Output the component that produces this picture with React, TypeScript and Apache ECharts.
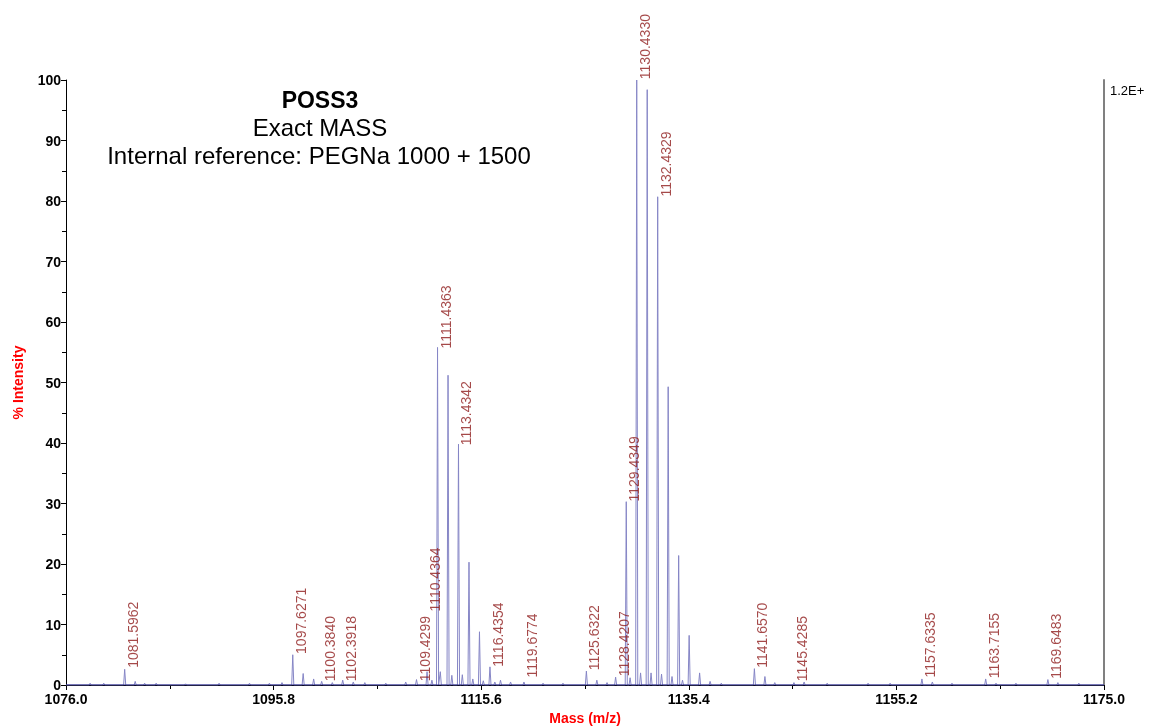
import React, { useEffect, useRef } from "react";
import * as echarts from "echarts";

// ---- data ----
const massMin = 1076.0;
const massMax = 1175.0;
const massTickStep = 19.8;
const intensityTicks = [0, 10, 20, 30, 40, 50, 60, 70, 80, 90, 100];

// profile peaks: [m/z, % intensity]
const peaks: [number, number][] = [
  [1078.3, 0.3], [1079.6, 0.3], [1081.5962, 2.6], [1082.6, 0.6], [1083.5, 0.3], [1084.6, 0.3],
  [1087.4, 0.2], [1090.6, 0.3], [1093.5, 0.3], [1095.4, 0.3], [1096.6, 0.4],
  [1097.6271, 5.0], [1098.62, 1.9], [1099.62, 1.0], [1100.384, 0.6], [1101.4, 0.4],
  [1102.3918, 0.8], [1103.4, 0.5], [1104.5, 0.4], [1106.5, 0.3], [1108.4, 0.5],
  [1109.4299, 0.9], [1110.4364, 2.2], [1110.9, 0.8], [1111.4363, 55.8], [1111.7, 2.2],
  [1112.437, 51.2], [1112.8, 1.6], [1113.4342, 39.8], [1113.8, 1.7], [1114.435, 20.3],
  [1114.8, 1.0], [1115.435, 8.8], [1115.8, 0.7], [1116.4354, 3.0], [1116.9, 0.5],
  [1117.44, 0.8], [1118.4, 0.5], [1119.6774, 0.5], [1121.5, 0.3], [1123.4, 0.3],
  [1125.6322, 2.3], [1126.63, 0.8], [1127.6, 0.4], [1128.4207, 1.3], [1129.4349, 30.3],
  [1129.8, 1.2], [1130.433, 100], [1130.8, 2.0], [1131.433, 98.4], [1131.8, 2.0],
  [1132.4329, 80.7], [1132.8, 1.8], [1133.433, 49.3], [1133.8, 1.4], [1134.433, 21.4],
  [1134.8, 0.8], [1135.433, 8.2], [1136.43, 2.0], [1137.43, 0.6], [1138.5, 0.3],
  [1141.657, 2.7], [1142.66, 1.4], [1143.6, 0.4], [1145.4285, 0.4], [1146.4, 0.5],
  [1148.6, 0.3], [1152.5, 0.3], [1154.6, 0.3], [1157.6335, 1.0], [1158.63, 0.5],
  [1160.5, 0.3], [1163.7155, 1.0], [1164.7, 0.3], [1166.6, 0.3], [1169.6483, 0.9],
  [1170.6, 0.4], [1172.6, 0.3],
];

// labelled peaks: [m/z, label height in %]
const labelledPeaks: [number, number][] = [
  [1081.5962, 3.0], [1097.6271, 5.3], [1100.384, 0.8], [1102.3918, 0.8],
  [1109.4299, 0.8], [1110.4364, 12.3], [1111.4363, 55.8], [1113.4342, 39.8],
  [1116.4354, 3.2], [1119.6774, 1.4], [1125.6322, 2.6], [1128.4207, 1.6],
  [1129.4349, 30.5], [1130.433, 100.3], [1132.4329, 80.9], [1141.657, 3.0],
  [1145.4285, 0.8], [1157.6335, 1.4], [1163.7155, 1.3], [1169.6483, 1.2],
];

const titleLines = ["POSS3", "Exact MASS", "Internal reference: PEGNa 1000 + 1500"];
const scaleNote = "1.2E+";

const FONT = "'Liberation Sans', Arial, Helvetica, sans-serif";

export default function App() {
  const ref = useRef<HTMLDivElement>(null);
  useEffect(() => {
    document.body.style.margin = "0";
    if (!ref.current) return;
    const chart = echarts.init(ref.current, null, { renderer: "svg" });

    const halfWidth = 0.1;
    const profile: number[][] = [[0, 0]];
    [...peaks].sort((a, b) => a[0] - b[0]).forEach(([m, h]) => {
      const x = m - massMin;
      profile.push([x - halfWidth, 0], [x, h], [x + halfWidth, 0]);
    });
    profile.push([massMax - massMin, 0]);

    const labelData = labelledPeaks.map(([m, h]) => [m - massMin, h, m.toFixed(4)]);

    chart.setOption({
      animation: false,
      textStyle: { fontFamily: FONT },
      grid: { left: 66, right: 47, top: 80, bottom: 41, containLabel: false, outerBoundsMode: "none" },
      xAxis: {
        type: "value",
        min: 0,
        max: massMax - massMin,
        interval: massTickStep,
        name: "Mass (m/z)",
        nameLocation: "middle",
        nameGap: 24,
        nameTextStyle: { color: "#ff0000", fontWeight: "bold", fontSize: 14, fontFamily: FONT },
        axisLine: { show: true, lineStyle: { color: "#000", width: 1 } },
        axisTick: { show: true, length: 5, lineStyle: { color: "#000" } },
        minorTick: { show: true, splitNumber: 2, length: 4, lineStyle: { color: "#000" } },
        splitLine: { show: false },
        axisLabel: {
          formatter: (v: number) => (v + massMin).toFixed(1),
          color: "#000",
          fontWeight: "bold",
          fontSize: 14,
          fontFamily: FONT,
          margin: 7,
        },
      },
      yAxis: [
        {
          type: "value",
          min: intensityTicks[0],
          max: intensityTicks[intensityTicks.length - 1],
          interval: 10,
          name: "% Intensity",
          nameLocation: "middle",
          nameGap: 41,
          nameTextStyle: { color: "#ff0000", fontWeight: "bold", fontSize: 14, fontFamily: FONT },
          axisLine: { show: true, lineStyle: { color: "#000", width: 1 } },
          axisTick: { show: true, length: 5, lineStyle: { color: "#000" } },
          minorTick: { show: true, splitNumber: 2, length: 4, lineStyle: { color: "#000" } },
          splitLine: { show: false },
          axisLabel: { color: "#000", fontWeight: "bold", fontSize: 14, fontFamily: FONT, margin: 5 },
        },
        {
          type: "value",
          position: "right",
          min: 0,
          max: 100,
          axisLine: { show: true, lineStyle: { color: "#808080", width: 2 } },
          axisTick: { show: false },
          axisLabel: { show: false },
          splitLine: { show: false },
        },
      ],
      series: [
        {
          type: "line",
          data: profile,
          showSymbol: false,
          symbol: "none",
          lineStyle: { color: "#8686c6", width: 1 },
          z: 2,
          silent: true,
        },
        {
          type: "line",
          data: [[0, 0], [massMax - massMin, 0]],
          showSymbol: false,
          symbol: "none",
          lineStyle: { color: "#2b2b8c", width: 1 },
          z: 3,
          silent: true,
        },
        {
          type: "scatter",
          data: labelData,
          symbolSize: 0,
          silent: true,
          clip: false,
          z: 5,
          label: {
            show: true,
            rotate: 90,
            position: [8, 1],
            align: "left",
            verticalAlign: "middle",
            color: "#8e1c1c",
            fontSize: 14,
            fontFamily: FONT,
            formatter: (p: any) => p.data[2],
          },
        },
      ],
      graphic: [
        {
          type: "text",
          x: 320,
          y: 100,
          style: { text: titleLines[0], font: `bold 23px ${FONT}`, fill: "#000", align: "center", verticalAlign: "middle" },
        },
        {
          type: "text",
          x: 320,
          y: 127,
          style: { text: titleLines[1], font: `24px ${FONT}`, fill: "#000", align: "center", verticalAlign: "middle" },
        },
        {
          type: "text",
          x: 319,
          y: 155,
          style: { text: titleLines[2], font: `24px ${FONT}`, fill: "#000", align: "center", verticalAlign: "middle" },
        },
        {
          type: "text",
          x: 1110,
          y: 90,
          style: { text: scaleNote, font: `13px ${FONT}`, fill: "#000", align: "left", verticalAlign: "middle" },
        },
      ],
    });
    return () => chart.dispose();
  }, []);
  return <div ref={ref} style={{ position: "fixed", left: 0, top: 0, width: 1151, height: 726 }} />;
}
